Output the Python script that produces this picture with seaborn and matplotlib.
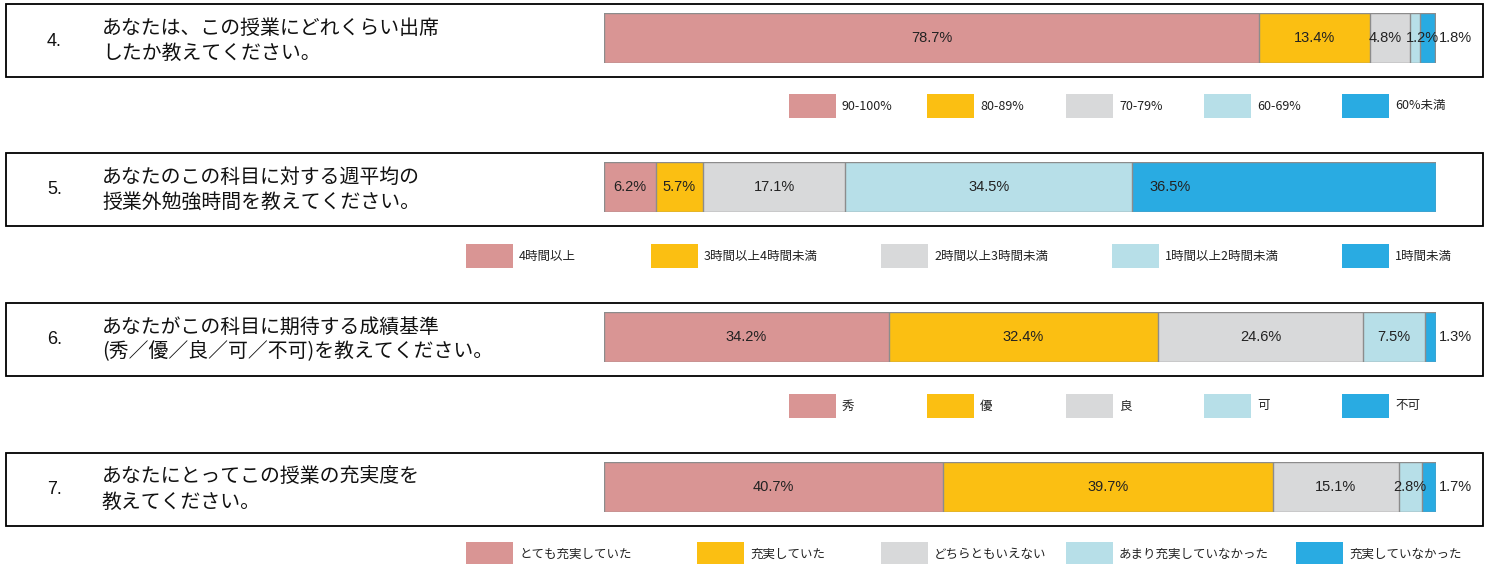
import matplotlib
matplotlib.use("Agg")
import matplotlib.pyplot as plt
from matplotlib.patches import Rectangle
import seaborn as sns
import pandas as pd
import numpy as np

# ---------------- data ----------------
q_numbers = ["4.", "5.", "6.", "7."]
q_line1 = ["あなたは、この授業にどれくらい出席",
           "あなたのこの科目に対する週平均の",
           "あなたがこの科目に期待する成績基準",
           "あなたにとってこの授業の充実度を"]
q_line2 = ["したか教えてください。",
           "授業外勉強時間を教えてください。",
           "(秀／優／良／可／不可)を教えてください。",
           "教えてください。"]

vals_q4 = [78.7, 13.4, 4.8, 1.2, 1.8]
vals_q5 = [6.2, 5.7, 17.1, 34.5, 36.5]
vals_q6 = [34.2, 32.4, 24.6, 7.5, 1.3]
vals_q7 = [40.7, 39.7, 15.1, 2.8, 1.7]

cats_q4 = ["90-100%", "80-89%", "70-79%", "60-69%", "60%未満"]
cats_q5 = ["4時間以上", "3時間以上4時間未満", "2時間以上3時間未満", "1時間以上2時間未満", "1時間未満"]
cats_q6 = ["秀", "優", "良", "可", "不可"]
cats_q7 = ["とても充実していた", "充実していた", "どちらともいえない", "あまり充実していなかった", "充実していなかった"]

all_vals = [vals_q4, vals_q5, vals_q6, vals_q7]
all_cats = [cats_q4, cats_q5, cats_q6, cats_q7]

# ---------------- style ----------------
colors = ["#D99594", "#FBBF12", "#D8D9DA", "#B7DFE8", "#29ABE2"]
edge = "#8C8C8C"

sns.set_theme(style="white")
plt.rcParams["font.family"] = ["Noto Sans CJK JP", "DejaVu Sans"]

W, H = 1491, 564
fig = plt.figure(figsize=(W / 100, H / 100), dpi=100)
fig.patch.set_facecolor("white")

def fx(px):
    return px / W

def fy(py):
    return 1 - py / H

box_tops = [4, 153, 303, 453]
box_h = 73
bar_offsets = (9, 59)  # bar top / bottom relative to box top
bar_x0, bar_w = 604, 832

# label placement style for the last segment of each bar
last_label_mode = ["right", "inside_left", "right", "right"]
# small horizontal nudges (in axis %) for crowded labels: (panel, segment) -> dx
label_nudge = {(0, 2): -0.6, (0, 3): 0.9}

legend_y = [94, 244, 394, 542]
legend_x = [[789, 927, 1066, 1204, 1342],
            [466, 651, 881, 1112, 1342],
            [789, 927, 1066, 1204, 1342],
            [466, 697, 881, 1066, 1296]]
patch_w, patch_h = 47, 24

num_font = ["Liberation Sans", "DejaVu Sans"]

for i in range(4):
    top = box_tops[i]
    # outer box
    fig.add_artist(Rectangle((fx(6), fy(top + box_h)), (1483 - 6) / W, box_h / H,
                             transform=fig.transFigure, fill=False,
                             edgecolor="black", linewidth=1.3))
    # question number and text
    fig.text(fx(47), fy(top + 37), q_numbers[i], fontsize=13, va="center",
             ha="left", color="#111111", family=num_font)
    fig.text(fx(102), fy(top + 24), q_line1[i], fontsize=14.3, va="center",
             ha="left", color="#111111")
    fig.text(fx(102), fy(top + 49), q_line2[i], fontsize=14.3, va="center",
             ha="left", color="#111111")

    # bar axes
    b_top = top + bar_offsets[0]
    b_bot = top + bar_offsets[1]
    ax = fig.add_axes([fx(bar_x0), fy(b_bot), bar_w / W, (b_bot - b_top) / H])
    vals = all_vals[i]
    cats = all_cats[i]
    cum = np.cumsum(vals)
    for k in reversed(range(len(vals))):
        df = pd.DataFrame({"q": ["Q"], "v": [cum[k]]})
        sns.barplot(data=df, x="v", y="q", orient="h", color=colors[k],
                    saturation=1, width=1.0, edgecolor=edge, linewidth=1.0, ax=ax)
    ax.set_xlim(0, 100)
    ax.set_ylim(0.5, -0.5)
    ax.axis("off")

    starts = np.concatenate([[0], cum[:-1]])
    for k, v in enumerate(vals):
        label = f"{v:.1f}%"
        dx = label_nudge.get((i, k), 0.0)
        if k == len(vals) - 1 and last_label_mode[i] == "right":
            ax.text(cum[-1] + 0.4, 0, label, ha="left", va="center",
                    fontsize=10.5, color="#222222", family=num_font)
        elif k == len(vals) - 1:
            ax.text(starts[k] + 4.5, 0, label, ha="center", va="center",
                    fontsize=10.5, color="#222222", family=num_font)
        else:
            ax.text(starts[k] + v / 2 + dx, 0, label, ha="center", va="center",
                    fontsize=10.5, color="#222222", family=num_font)

    # legend
    ly = legend_y[i]
    for k, c in enumerate(cats):
        lx = legend_x[i][k]
        fig.add_artist(Rectangle((fx(lx), fy(ly + patch_h)), patch_w / W, patch_h / H,
                                 transform=fig.transFigure, facecolor=colors[k],
                                 edgecolor="none"))
        fig.text(fx(lx + patch_w + 6), fy(ly + patch_h / 2), c, fontsize=9,
                 va="center", ha="left", color="#222222")

fig.savefig("out.png", dpi=100, facecolor="white")
